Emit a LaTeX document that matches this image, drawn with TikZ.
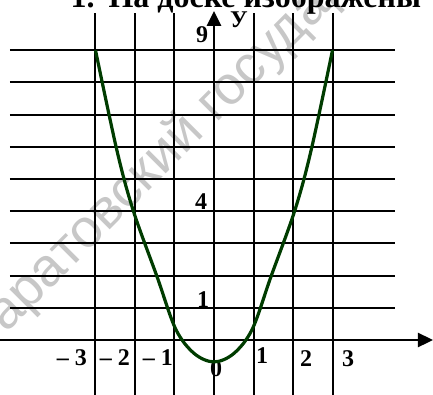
\documentclass[tikz,border=0pt]{standalone}
\usepackage{fontspec}
\setmainfont{Liberation Serif}
\newfontfamily\wmfont{Liberation Sans}
\usetikzlibrary{arrows.meta}

\definecolor{curvegreen}{RGB}{0,60,0}

\begin{document}
\begin{tikzpicture}[x=39.5pt, y=32.2pt,
    gridline/.style={line width=2pt},
    axis/.style={line width=2.4pt, -{Triangle[length=15pt, width=14pt]}},
    lbl/.style={font=\fontsize{24}{28}\selectfont\bfseries, inner sep=0pt},
    curve/.style={line width=3.2pt, curvegreen}
]
\useasboundingbox (-214pt,-54pt) rectangle (219pt,340pt);
\clip (-214pt,-54pt) rectangle (219pt,340pt);

% watermark and the cut title line
\node[rotate=45, anchor=base west, text=black!22, font=\wmfont\fontsize{54}{58}\selectfont] (wm) at (-238pt,-24pt) {Саратовский государственный};
\node[anchor=base west, font=\fontsize{32}{36}\selectfont\bfseries] (title) at (-147pt,332pt) {1.\hspace{14pt}На доске изображены};

% grid
\foreach \y in {1,...,9} \draw[gridline] (-5.165,\y) -- (4.582,\y);
\foreach \x in {-3,-2,-1,1,2,3} \draw[gridline] (\x,-1.7) -- (\x,10.155);

% axes
\coordinate (xstart) at (-5.42,0);
\coordinate (xend) at (5.544,0);
\coordinate (ystart) at (0,-1.7);
\coordinate (yend) at (0,10.22);
\draw[axis] (xstart) -- (xend);
\draw[axis] (ystart) -- (yend);

% labels on the axes
\node[lbl] (ylbl) at (25pt,320pt) {У};
\node[lbl] (y9) at (-12pt,305pt) {9};
\node[lbl] (y4) at (-13pt,138pt) {4};
\node[lbl] (y1) at (-11pt,40pt) {1};
\node[lbl] (xm3) at (-142pt,-18pt) {– 3};
\node[lbl] (xm2) at (-99pt,-18pt) {– 2};
\node[lbl] (xm1) at (-56pt,-18pt) {– 1};
\node[lbl] (x0) at (2pt,-29pt) {0};
\node[lbl] (x1) at (48pt,-16pt) {1};
\node[lbl] (x2) at (92pt,-19pt) {2};
\node[lbl] (x3) at (134pt,-19pt) {3};

% the curve
\draw[curve] plot[smooth, tension=0.55] coordinates {(-3,9) (-2.46,5.9) (-2.05,4.04) (-1.44,1.96) (-0.97,0.34) (-0.5,-0.42) (0,-0.68) (0.5,-0.42) (0.97,0.34) (1.44,1.96) (2.05,4.04) (2.46,5.9) (3,9)};

\end{tikzpicture}
\end{document}
